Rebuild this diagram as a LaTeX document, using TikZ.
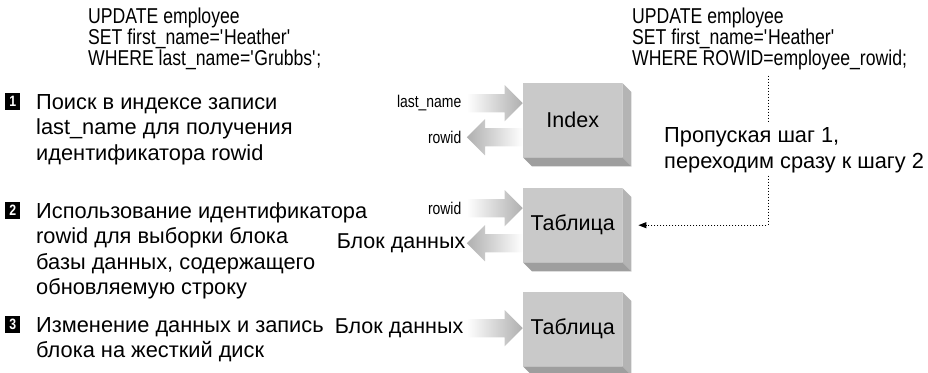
\documentclass[tikz,border=0pt]{standalone}
\usepackage{fontspec}
\setmainfont{Liberation Sans}
\newfontfamily\narrowfont[FakeStretch=0.82]{Liberation Sans}
\usetikzlibrary{positioning,shapes.arrows,arrows.meta}

\definecolor{boxface}{RGB}{201,201,201}
\definecolor{boxside}{RGB}{180,180,180}
\definecolor{boxbottom}{RGB}{158,158,158}
\definecolor{arrowgray}{RGB}{175,175,175}

\begin{document}
\begin{tikzpicture}[x=1pt,y=-1pt]
	\tikzstyle{dbox}=[fill=boxface, minimum width=99pt, minimum height=74pt, inner sep=0pt, anchor=north west, font=\fontsize{21.5}{24}\selectfont]
	\tikzstyle{rarrow}=[single arrow, left color=white, right color=arrowgray, minimum height=56pt, inner xsep=0pt, inner ysep=9pt, text height=0pt, text depth=0pt, single arrow head extend=9pt, single arrow head indent=0pt, anchor=tip]
	\tikzstyle{larrow}=[rarrow, shape border rotate=180, left color=arrowgray, right color=white, anchor=tail]
	\tikzstyle{lbl}=[inner sep=0pt, font=\narrowfont\fontsize{17}{17}\selectfont]
	\tikzstyle{sql}=[inner sep=2pt, align=left, anchor=base west, font=\narrowfont\fontsize{21.5}{18}\selectfont]
	\tikzstyle{steptext}=[inner sep=0pt, align=left, anchor=base west, font=\fontsize{21.8}{25.5}\selectfont]
	\tikzstyle{num}=[fill=black, text=white, minimum width=15pt, minimum height=17pt, inner sep=0pt, anchor=south west, font=\narrowfont\bfseries\fontsize{15}{15}\selectfont]
	\tikzstyle{dotline}=[line width=1pt, dash pattern=on 1pt off 2pt]

	\useasboundingbox (0,0) rectangle (928,372);

	% SQL (anchored on the last line)
	\node[sql] (sqlL) at (86,65) {UPDATE employee\\SET first\_name=\textquotesingle Heather\textquotesingle\\WHERE last\_name=\textquotesingle Grubbs\textquotesingle;};
	\node[sql] (sqlR) at (630,65) {UPDATE employee\\SET first\_name=\textquotesingle Heather\textquotesingle\\WHERE ROWID=employee\_rowid;};

	% steps
	\node[steptext] (t1) at (36,160) {Поиск в индексе записи\\last\_name для получения\\идентификатора rowid};
	\node[num] (n1) at (5,110) {1};
	\node[steptext] (t2) at (36,294.5) {Использование идентификатора\\rowid для выборки блока\\базы данных, содержащего\\обновляемую строку};
	\node[num] (n2) at (5,219) {2};
	\node[steptext] (t3) at (36,357.5) {Изменение данных и запись\\блока на жесткий диск};
	\node[num] (n3) at (5,333) {3};

	% boxes
	\node[dbox] (index) at (523,83) {Index};
	\node[dbox] (tab1) at (523,188) {Таблица};
	\node[dbox] (tab2) at (523,292) {Таблица};
	\foreach \b in {index,tab1,tab2} {
		\fill[boxside] (\b.north east) -- ([shift={(9,9)}]\b.north east) -- ([shift={(9,9)}]\b.south east) -- (\b.south east) -- cycle;
		\fill[boxbottom] (\b.south west) -- (\b.south east) -- ([shift={(9,9)}]\b.south east) -- ([shift={(9,9)}]\b.south west) -- cycle;
	}

	% arrows
	\node[rarrow] (inLast) at ([yshift=17pt]index.west) {};
	\node[larrow] (outRow) at ([yshift=-17pt]index.west) {};
	\node[lbl, left=5pt of inLast.tail] {last\_name};
	\node[lbl, left=5pt of outRow.tip] {rowid};

	\node[rarrow] (inRow) at ([yshift=17pt]tab1.west) {};
	\node[larrow] (outBlock) at ([yshift=-18pt]tab1.west) {};
	\node[lbl, left=5pt of inRow.tail] {rowid};
	\node[inner sep=0pt, font=\fontsize{21.5}{24}\selectfont, left=1pt of outBlock.tip] {Блок данных};

	\node[rarrow] (inBlock) at ([yshift=1pt]tab2.west) {};
	\node[inner sep=0pt, font=\fontsize{21.5}{24}\selectfont, left=3pt of inBlock.tail] {Блок данных};

	% skip step 1
	\node[steptext] (skip) at (664,168) {Пропуская шаг 1,\\переходим сразу к шагу 2};
	\coordinate (jump) at (768,0);
	\draw[dotline, shorten <=4pt, shorten >=4pt] (sqlR.south -| jump) -- (skip.north -| jump);
	\draw[dotline, shorten <=3pt, -{Triangle[length=8pt,width=6pt]}] (skip.south -| jump) |- ([xshift=16pt]tab1.east);
\end{tikzpicture}
\end{document}
